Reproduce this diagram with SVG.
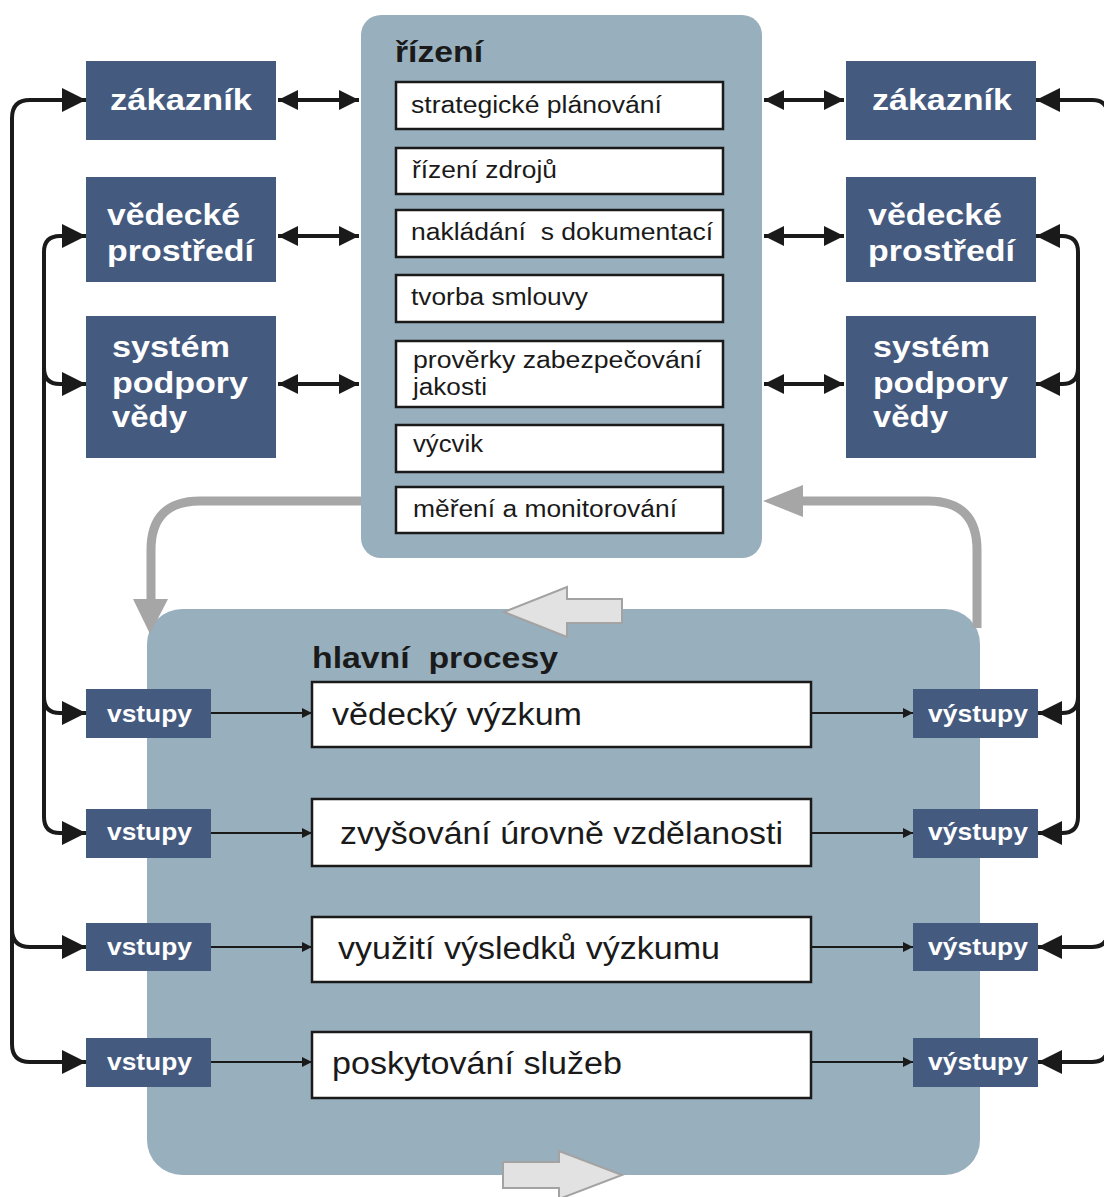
<svg xmlns="http://www.w3.org/2000/svg" width="1104" height="1197" viewBox="0 0 1104 1197">
<defs>
<style>
.panel{fill:#98afbe}
.dark{fill:#455a7f}
.wbox{fill:#ffffff;stroke:#1a1a1a;stroke-width:2.5}
.lbl{font-family:"Liberation Sans",Arial,sans-serif;font-weight:bold;fill:#ffffff}
.ttl{font-family:"Liberation Sans",Arial,sans-serif;font-weight:bold;fill:#1a1a1a;white-space:pre}
.txt{font-family:"Liberation Sans",Arial,sans-serif;fill:#1a1a1a;white-space:pre}
.conn{fill:none;stroke:#1a1a1a;stroke-width:4}
.thin{fill:none;stroke:#1a1a1a;stroke-width:2}
.gray{fill:none;stroke:#a6a6a6;stroke-width:9}
.grayhead{fill:#a6a6a6}
.block{fill:#e2e2e2;stroke:#a3a3a3;stroke-width:2}
</style>
<marker id="ah" viewBox="0 0 10 10" refX="10" refY="5" markerUnits="userSpaceOnUse" markerWidth="24" markerHeight="24" orient="auto-start-reverse">
<path d="M0,0 L10,5 L0,10 z" fill="#1a1a1a"/>
</marker>
<marker id="ah2" viewBox="0 0 10 10" refX="10" refY="5" markerUnits="userSpaceOnUse" markerWidth="20" markerHeight="20" orient="auto-start-reverse">
<path d="M0,0 L10,5 L0,10 z" fill="#1a1a1a"/>
</marker>
<marker id="ahs" viewBox="0 0 10 10" refX="10" refY="5" markerUnits="userSpaceOnUse" markerWidth="12" markerHeight="10" orient="auto">
<path d="M0,0 L10,5 L0,10 z" fill="#1a1a1a"/>
</marker>
</defs>

<rect width="1104" height="1197" fill="#ffffff"/>

<g id="rizeni">
<rect class="panel" x="361" y="15" width="401" height="543" rx="20"/>
<text class="ttl" x="395" y="62" font-size="29" textLength="88" lengthAdjust="spacingAndGlyphs">řízení</text>
</g>

<g id="hlavni-procesy">
<rect class="panel" x="147" y="609" width="833" height="566" rx="35"/>
<text class="ttl" x="312" y="668" font-size="29" textLength="246" lengthAdjust="spacingAndGlyphs" xml:space="preserve">hlavní  procesy</text>
</g>

<g id="r1"><rect class="wbox" x="396" y="82" width="327" height="47"/><text class="txt" x="411" y="113" font-size="23.5" textLength="251" lengthAdjust="spacingAndGlyphs">strategické plánování</text></g>
<g id="r2"><rect class="wbox" x="396" y="148" width="327" height="46"/><text class="txt" x="412" y="178" font-size="23.5" textLength="145" lengthAdjust="spacingAndGlyphs">řízení zdrojů</text></g>
<g id="r3"><rect class="wbox" x="396" y="210" width="327" height="47"/><text class="txt" x="411" y="240" font-size="23.5" textLength="302" lengthAdjust="spacingAndGlyphs" xml:space="preserve">nakládání  s dokumentací</text></g>
<g id="r4"><rect class="wbox" x="396" y="275" width="327" height="47"/><text class="txt" x="411" y="305" font-size="23.5" textLength="177" lengthAdjust="spacingAndGlyphs">tvorba smlouvy</text></g>
<g id="r5"><rect class="wbox" x="396" y="341" width="327" height="66"/><text class="txt" x="413" y="368" font-size="23.5" textLength="289" lengthAdjust="spacingAndGlyphs">prověrky zabezpečování</text><text class="txt" x="413" y="395" font-size="23.5" textLength="74" lengthAdjust="spacingAndGlyphs">jakosti</text></g>
<g id="r6"><rect class="wbox" x="396" y="425" width="327" height="47"/><text class="txt" x="413" y="452" font-size="23.5" textLength="70" lengthAdjust="spacingAndGlyphs">výcvik</text></g>
<g id="r7"><rect class="wbox" x="396" y="487" width="327" height="46"/><text class="txt" x="413" y="517" font-size="23.5" textLength="264" lengthAdjust="spacingAndGlyphs">měření a monitorování</text></g>

<g id="zakaznik-l"><rect class="dark" x="86" y="61" width="190" height="79"/><text class="lbl" x="110" y="110" font-size="30" textLength="142" lengthAdjust="spacingAndGlyphs">zákazník</text></g>
<g id="vedecke-l"><rect class="dark" x="86" y="177" width="190" height="105"/><text class="lbl" x="107" y="225" font-size="30" textLength="133" lengthAdjust="spacingAndGlyphs">vědecké</text><text class="lbl" x="107" y="261" font-size="30" textLength="147" lengthAdjust="spacingAndGlyphs">prostředí</text></g>
<g id="system-l"><rect class="dark" x="86" y="316" width="190" height="142"/><text class="lbl" x="112" y="357" font-size="30" textLength="118" lengthAdjust="spacingAndGlyphs">systém</text><text class="lbl" x="112" y="393" font-size="30" textLength="136" lengthAdjust="spacingAndGlyphs">podpory</text><text class="lbl" x="112" y="427" font-size="30" textLength="75" lengthAdjust="spacingAndGlyphs">vědy</text></g>

<g id="zakaznik-r"><rect class="dark" x="846" y="61" width="190" height="79"/><text class="lbl" x="872" y="110" font-size="30" textLength="140" lengthAdjust="spacingAndGlyphs">zákazník</text></g>
<g id="vedecke-r"><rect class="dark" x="846" y="177" width="190" height="105"/><text class="lbl" x="868" y="225" font-size="30" textLength="134" lengthAdjust="spacingAndGlyphs">vědecké</text><text class="lbl" x="868" y="261" font-size="30" textLength="147" lengthAdjust="spacingAndGlyphs">prostředí</text></g>
<g id="system-r"><rect class="dark" x="846" y="316" width="190" height="142"/><text class="lbl" x="873" y="357" font-size="30" textLength="117" lengthAdjust="spacingAndGlyphs">systém</text><text class="lbl" x="873" y="393" font-size="30" textLength="135" lengthAdjust="spacingAndGlyphs">podpory</text><text class="lbl" x="873" y="427" font-size="30" textLength="75" lengthAdjust="spacingAndGlyphs">vědy</text></g>

<g id="p1"><rect class="wbox" x="312" y="682" width="499" height="65"/><text class="txt" x="332" y="725" font-size="31" textLength="250" lengthAdjust="spacingAndGlyphs">vědecký výzkum</text></g>
<g id="p2"><rect class="wbox" x="312" y="799" width="499" height="67"/><text class="txt" x="340" y="844" font-size="31" textLength="443" lengthAdjust="spacingAndGlyphs">zvyšování úrovně vzdělanosti</text></g>
<g id="p3"><rect class="wbox" x="312" y="917" width="499" height="65"/><text class="txt" x="338" y="959" font-size="31" textLength="382" lengthAdjust="spacingAndGlyphs">využití výsledků výzkumu</text></g>
<g id="p4"><rect class="wbox" x="312" y="1032" width="499" height="66"/><text class="txt" x="332" y="1074" font-size="31" textLength="290" lengthAdjust="spacingAndGlyphs">poskytování služeb</text></g>

<g id="vstupy1"><rect class="dark" x="86" y="689" width="125" height="49"/><text class="lbl" x="107" y="722" font-size="23" textLength="85" lengthAdjust="spacingAndGlyphs">vstupy</text></g>
<g id="vstupy2"><rect class="dark" x="86" y="809" width="125" height="49"/><text class="lbl" x="107" y="840" font-size="23" textLength="85" lengthAdjust="spacingAndGlyphs">vstupy</text></g>
<g id="vstupy3"><rect class="dark" x="86" y="923" width="125" height="48"/><text class="lbl" x="107" y="955" font-size="23" textLength="85" lengthAdjust="spacingAndGlyphs">vstupy</text></g>
<g id="vstupy4"><rect class="dark" x="86" y="1038" width="125" height="49"/><text class="lbl" x="107" y="1070" font-size="23" textLength="85" lengthAdjust="spacingAndGlyphs">vstupy</text></g>

<g id="vystupy1"><rect class="dark" x="913" y="689" width="125" height="49"/><text class="lbl" x="928" y="722" font-size="23" textLength="100" lengthAdjust="spacingAndGlyphs">výstupy</text></g>
<g id="vystupy2"><rect class="dark" x="913" y="809" width="125" height="49"/><text class="lbl" x="928" y="840" font-size="23" textLength="100" lengthAdjust="spacingAndGlyphs">výstupy</text></g>
<g id="vystupy3"><rect class="dark" x="913" y="923" width="125" height="48"/><text class="lbl" x="928" y="955" font-size="23" textLength="100" lengthAdjust="spacingAndGlyphs">výstupy</text></g>
<g id="vystupy4"><rect class="dark" x="913" y="1038" width="125" height="49"/><text class="lbl" x="928" y="1070" font-size="23" textLength="100" lengthAdjust="spacingAndGlyphs">výstupy</text></g>

<g id="connectors">
<line class="conn" x1="278" y1="100" x2="359" y2="100" marker-start="url(#ah2)" marker-end="url(#ah2)"/>
<line class="conn" x1="278" y1="236" x2="359" y2="236" marker-start="url(#ah2)" marker-end="url(#ah2)"/>
<line class="conn" x1="278" y1="384" x2="359" y2="384" marker-start="url(#ah2)" marker-end="url(#ah2)"/>
<line class="conn" x1="764" y1="100" x2="844" y2="100" marker-start="url(#ah2)" marker-end="url(#ah2)"/>
<line class="conn" x1="764" y1="236" x2="844" y2="236" marker-start="url(#ah2)" marker-end="url(#ah2)"/>
<line class="conn" x1="764" y1="384" x2="844" y2="384" marker-start="url(#ah2)" marker-end="url(#ah2)"/>

<path class="conn" d="M12 945 V118 Q12 100 30 100 H86" marker-end="url(#ah)"/>
<path class="conn" d="M12 940 V1044 Q12 1062 30 1062 H86" marker-end="url(#ah)"/>
<path class="conn" d="M12 929 Q12 947 30 947 H86" marker-end="url(#ah)"/>
<path class="conn" d="M44 700 V252 Q44 236 60 236 H86" marker-end="url(#ah)"/>
<path class="conn" d="M44 690 V817 Q44 833 60 833 H86" marker-end="url(#ah)"/>
<path class="conn" d="M44 368 Q44 384 60 384 H86" marker-end="url(#ah)"/>
<path class="conn" d="M44 697 Q44 713 60 713 H86" marker-end="url(#ah)"/>
<path class="conn" d="M1078 700 V252 Q1078 236 1062 236 H1036" marker-end="url(#ah)"/>
<path class="conn" d="M1078 690 V817 Q1078 833 1062 833 H1038" marker-end="url(#ah)"/>
<path class="conn" d="M1078 368 Q1078 384 1062 384 H1036" marker-end="url(#ah)"/>
<path class="conn" d="M1078 697 Q1078 713 1062 713 H1038" marker-end="url(#ah)"/>
<path class="conn" d="M1108 200 V116 Q1108 100 1092 100 H1036" marker-end="url(#ah)"/>
<path class="conn" d="M1108 900 V931 Q1108 947 1092 947 H1038" marker-end="url(#ah)"/>
<path class="conn" d="M1108 1000 V1046 Q1108 1062 1092 1062 H1038" marker-end="url(#ah)"/>

<line class="thin" x1="211" y1="713" x2="312" y2="713" marker-end="url(#ahs)"/>
<line class="thin" x1="211" y1="833" x2="312" y2="833" marker-end="url(#ahs)"/>
<line class="thin" x1="211" y1="947" x2="312" y2="947" marker-end="url(#ahs)"/>
<line class="thin" x1="211" y1="1062" x2="312" y2="1062" marker-end="url(#ahs)"/>
<line class="thin" x1="812" y1="713" x2="913" y2="713" marker-end="url(#ahs)"/>
<line class="thin" x1="812" y1="833" x2="913" y2="833" marker-end="url(#ahs)"/>
<line class="thin" x1="812" y1="947" x2="913" y2="947" marker-end="url(#ahs)"/>
<line class="thin" x1="812" y1="1062" x2="913" y2="1062" marker-end="url(#ahs)"/>

<path class="gray" d="M361 501 H200 Q151 501 151 550 V602"/>
<polygon class="grayhead" points="133,599 168,599 150,634"/>
<path class="gray" d="M977 628 V550 Q977 501 928 501 H800"/>
<polygon class="grayhead" points="803,485 803,517 763,501"/>

<polygon class="block" points="504,612 567,587 567,599 622,599 622,623 567,623 567,637"/>
<polygon class="block" points="503,1162 559,1162 559,1151 622,1175 559,1199 559,1188 503,1188"/>
</g>
</svg>
